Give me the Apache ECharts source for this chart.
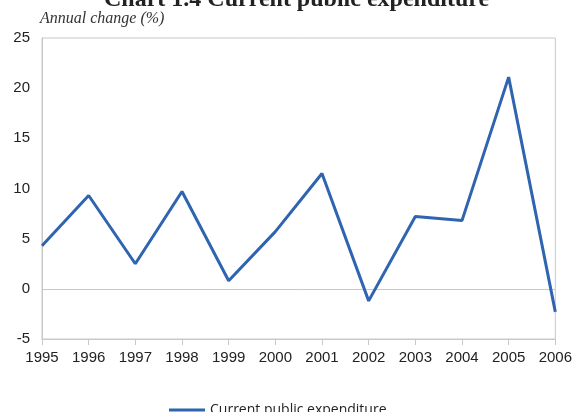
<!DOCTYPE html>
<html>
<head>
<meta charset="utf-8">
<script src="https://cdn.jsdelivr.net/npm/echarts@6/dist/echarts.min.js"></script>
<style>
  html, body { margin: 0; padding: 0; background: #fff; }
  #chart { width: 575px; height: 412px; }
</style>
</head>
<body>
<div id="chart"></div>
<script>
// data
const years = ['1995', '1996', '1997', '1998', '1999', '2000', '2001', '2002', '2003', '2004', '2005', '2006'];
const expenditure = [4.3, 9.3, 2.5, 9.7, 0.8, 5.7, 11.5, -1.2, 7.2, 6.8, 21.1, -2.3];
const seriesName = 'Current public expenditure';

const chart = echarts.init(document.getElementById('chart'));

const option = {
    animation: false,
    graphic: [
        {
            type: 'text',
            left: 104,
            top: -12,
            style: {
                text: 'Chart 1.4 Current public expenditure',
                font: 'bold 24px "Liberation Serif", serif',
                fill: '#222'
            }
        },
        {
            type: 'text',
            left: 40,
            top: 11,
            style: {
                text: 'Annual change (%)',
                font: 'italic 16px "Liberation Serif", serif',
                fill: '#333'
            }
        }
    ],
    grid: {
        left: 42,
        right: 17,
        top: 38,
        bottom: 73,
        show: true,
        borderColor: '#c8c8c8',
        borderWidth: 1
    },
    legend: {
        left: 164,
        top: 398,
        icon: 'rect',
        itemWidth: 36,
        itemHeight: 3,
        itemGap: 6,
        textStyle: { fontFamily: 'Open Sans', fontSize: 14, color: '#222' },
        data: [seriesName]
    },
    xAxis: {
        type: 'category',
        data: years,
        boundaryGap: false,
        axisLine: { onZero: false, lineStyle: { color: '#c8c8c8' } },
        axisTick: { show: true, length: 6, lineStyle: { color: '#c8c8c8' } },
        axisLabel: { fontFamily: 'Liberation Sans', fontSize: 15, color: '#222', margin: 11 }
    },
    yAxis: {
        type: 'value',
        min: -5,
        max: 25,
        interval: 5,
        splitLine: { show: false },
        axisLine: { show: true, lineStyle: { color: '#c8c8c8' } },
        axisTick: { show: false },
        axisLabel: { fontFamily: 'Liberation Sans', fontSize: 15, color: '#222', margin: 12 }
    },
    series: [
        {
            name: seriesName,
            type: 'line',
            data: expenditure,
            symbol: 'none',
            lineStyle: { color: '#2e64b0', width: 3 },
            itemStyle: { color: '#2e64b0' },
            z: 3,
            markLine: {
                silent: true,
                symbol: 'none',
                label: { show: false },
                lineStyle: { color: '#c8c8c8', width: 1, type: 'solid' },
                data: [{ yAxis: 0 }],
                z: 1
            }
        }
    ]
};

chart.setOption(option);
</script>
</body>
</html>
